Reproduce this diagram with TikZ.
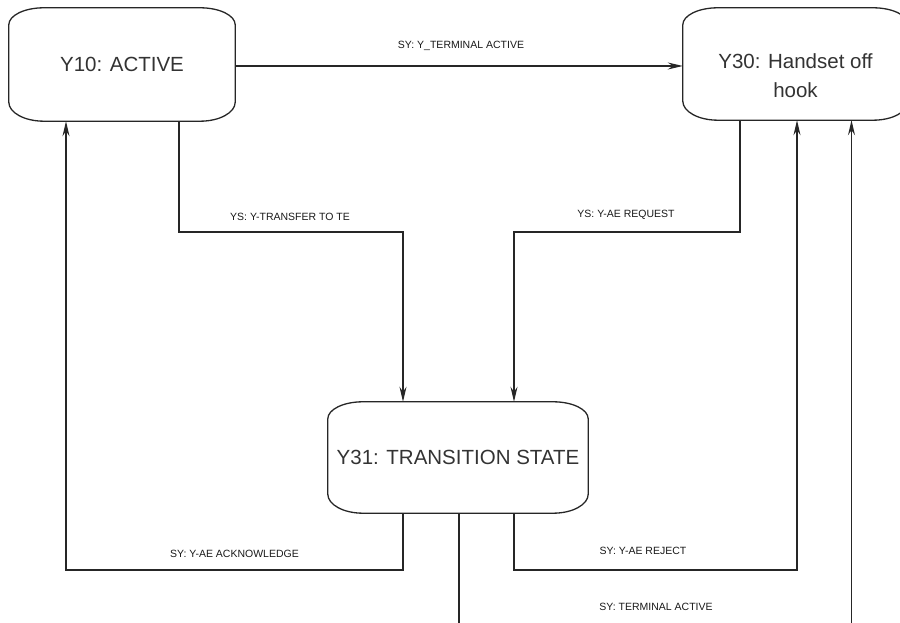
\documentclass[tikz,border=0pt]{standalone}
\usepackage{fontspec}
\setmainfont{Liberation Sans}
\usetikzlibrary{arrows.meta}
\tikzset{
  x=1pt, y=1pt,
  state/.style={rectangle, draw=none, inner sep=0pt, align=center,
    font=\fontsize{20.5}{29}\selectfont, text=black!80},
  statetext/.style={inner sep=0pt, align=center,
    font=\fontsize{20.5}{29}\selectfont, text=black!80},
  outline/.style={line width=1.3pt, black!85},
  conn/.style={line width=1.4pt, black!85},
  arr/.style={conn, -{Stealth[length=15pt, width=7pt, inset=5pt]}},
  lbl/.style={inner sep=0pt, font=\fontsize{10.5}{12}\selectfont, text=black!90},
}
\begin{document}
\begin{tikzpicture}
\useasboundingbox (0,0) rectangle (900,623);

% states
\node[state, minimum width=226pt, minimum height=113pt] (y10) at (122,558.5) {Y10: ACTIVE};
\node[state, minimum width=225pt, minimum height=112pt] (y30) at (795.5,559) {};
\node[statetext] (y30t) at ([yshift=-12pt]y30.center) {Y30: Handset off\\hook};
\node[state, minimum width=260pt, minimum height=111pt] (y31) at (458,165.5) {Y31: TRANSITION STATE};

% outlines with flattened corners
\foreach \n in {y10,y30,y31}{
  \draw[outline]
    ([xshift=35pt]\n.north west) -- ([xshift=-35pt]\n.north east)
    arc[start angle=90, end angle=0, x radius=35pt, y radius=17pt]
    -- ([yshift=19pt]\n.south east)
    arc[start angle=0, end angle=-90, x radius=35pt, y radius=19pt]
    -- ([xshift=35pt]\n.south west)
    arc[start angle=270, end angle=180, x radius=35pt, y radius=19pt]
    -- ([yshift=-17pt]\n.north west)
    arc[start angle=180, end angle=90, x radius=35pt, y radius=17pt]
    -- cycle;
}

% loose ends at the page border
\coordinate (out31) at (459,0);
\coordinate (in30) at (851.5,0);

% transitions
\draw[arr] (y10.east |- 0,557) -- (y30.west |- 0,557);
\draw[arr] ([xshift=57pt]y10.south) -- ++(0,-111) -| ([xshift=-55pt]y31.north);
\draw[arr] ([xshift=-55.5pt]y30.south) -- ++(0,-112) -| ([xshift=56pt]y31.north);
\draw[arr] ([xshift=-55pt]y31.south) -- ++(0,-57) -| ([xshift=-56pt]y10.south);
\draw[arr] ([xshift=56pt]y31.south) -- ++(0,-57) -| ([xshift=1.5pt]y30.south);
\draw[conn] ([xshift=1pt]y31.south) -- (out31);
\draw[arr] (in30) -- ([xshift=56pt]y30.south);

% transition labels
\node[lbl] (l1) at (461,577) {SY: Y\_TERMINAL ACTIVE};
\node[lbl] (l2) at (290,406) {YS: Y-TRANSFER TO TE};
\node[lbl] (l3) at (626,408) {YS: Y-AE REQUEST};
\node[lbl] (l4) at (234.5,69) {SY: Y-AE ACKNOWLEDGE};
\node[lbl] (l5) at (643,72) {SY: Y-AE REJECT};
\node[lbl] (l6) at (656,16) {SY: TERMINAL ACTIVE};
\end{tikzpicture}
\end{document}
